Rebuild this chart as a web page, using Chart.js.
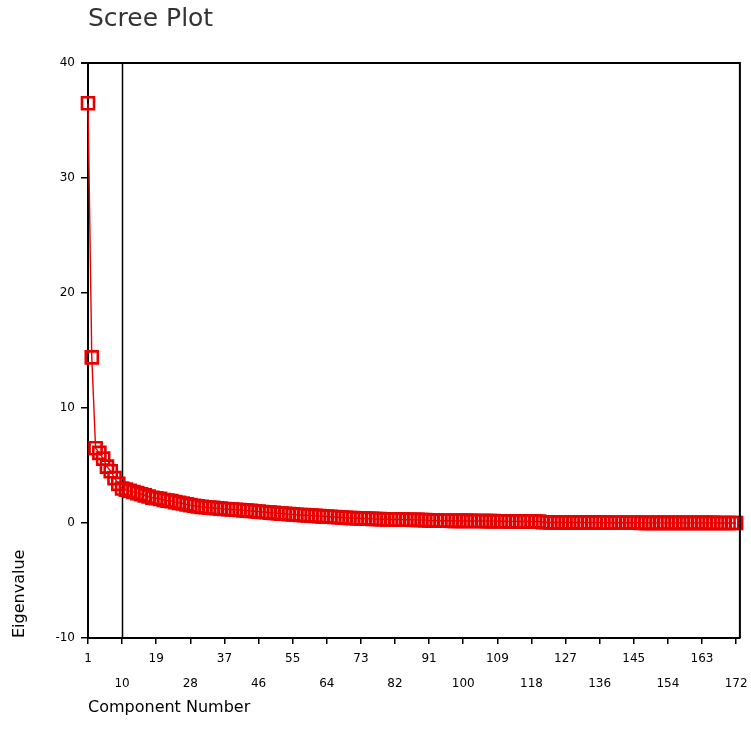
<!DOCTYPE html>
<html>
<head>
<meta charset="utf-8">
<script src="https://cdn.jsdelivr.net/npm/chart.js@4"></script>
<style>
  html, body { margin: 0; padding: 0; background: #fff; }
  #wrap { width: 751px; height: 751px; }
</style>
</head>
<body>
<div id="wrap"><canvas id="scree" width="751" height="751"></canvas></div>
<script>
const chartTitle = "Scree Plot";
const xTitle = "Component Number";
const yTitle = "Eigenvalue";

// eigenvalues for components 1..172
const eigenvalues = [
  36.5, 14.4, 6.5, 6.1, 5.6, 4.9, 4.5, 3.9, 3.4, 3.0,
  2.9, 2.8, 2.7, 2.6, 2.5, 2.4, 2.3, 2.2, 2.15, 2.1,
  2.0, 1.95, 1.9, 1.82, 1.75, 1.7, 1.62, 1.55, 1.5, 1.45,
  1.4, 1.37, 1.34, 1.31, 1.28, 1.25, 1.22, 1.2, 1.17, 1.15,
  1.13, 1.1, 1.08, 1.05, 1.02, 0.99, 0.96, 0.93, 0.9, 0.88,
  0.85, 0.82, 0.8, 0.77, 0.75, 0.72, 0.7, 0.68, 0.66, 0.64,
  0.62, 0.6, 0.58, 0.56, 0.54, 0.52, 0.5, 0.48, 0.46, 0.44,
  0.42, 0.41, 0.4, 0.38, 0.37, 0.36, 0.35, 0.34, 0.33, 0.32,
  0.31, 0.3, 0.3, 0.29, 0.28, 0.28, 0.27, 0.27, 0.26, 0.25,
  0.22, 0.21, 0.21, 0.2, 0.2, 0.2, 0.19, 0.19, 0.19, 0.18,
  0.18, 0.18, 0.17, 0.17, 0.17, 0.16, 0.16, 0.16, 0.15, 0.15,
  0.15, 0.14, 0.14, 0.14, 0.13, 0.13, 0.13, 0.12, 0.12, 0.12,
  0.06, 0.06, 0.05, 0.05, 0.05, 0.05, 0.04, 0.04, 0.04, 0.04,
  0.04, 0.03, 0.03, 0.03, 0.03, 0.03, 0.03, 0.02, 0.02, 0.02,
  0.02, 0.02, 0.02, 0.02, 0.02, 0.02, 0.01, 0.01, 0.01, 0.01,
  0.01, 0.01, 0.01, 0.01, 0.01, 0.01, 0.01, 0.01, 0.01, 0.01,
  0.01, 0.01, 0.01, 0.01, 0.01, 0.01, 0.0, 0.0, 0.0, 0.0,
  0.0, 0.0
];
const components = eigenvalues.map((v, i) => i + 1);

const xTicks = [1, 10, 19, 28, 37, 46, 55, 64, 73, 82, 91, 100, 109, 118, 127, 136, 145, 154, 163, 172];
const yTicks = [-10, 0, 10, 20, 30, 40];
const cutoff = 10;

const FONT = "'DejaVu Sans', sans-serif";

// title, frame and the reference line at component 10
const screeExtras = {
  id: "screeExtras",
  beforeDatasetsDraw(chart) {
    const { ctx, chartArea, scales } = chart;
    ctx.save();
    ctx.strokeStyle = "#000";
    ctx.lineWidth = 1.5;
    const xc = Math.round(scales.x.getPixelForValue(cutoff)) + 0.5;
    ctx.beginPath();
    ctx.moveTo(xc, chartArea.top);
    ctx.lineTo(xc, chartArea.bottom);
    ctx.stroke();
    ctx.restore();
  },
  afterDraw(chart) {
    const { ctx, chartArea } = chart;
    ctx.save();
    ctx.strokeStyle = "#000";
    ctx.lineWidth = 2;
    ctx.beginPath();
    ctx.moveTo(chartArea.left - 7, chartArea.top);
    ctx.lineTo(chartArea.right, chartArea.top);
    ctx.lineTo(chartArea.right, chartArea.bottom);
    ctx.stroke();

    ctx.fillStyle = "#333";
    ctx.font = "25px " + FONT;
    ctx.textAlign = "left";
    ctx.textBaseline = "alphabetic";
    ctx.fillText(chartTitle, chartArea.left, 26);
    ctx.restore();
  }
};

new Chart(document.getElementById("scree"), {
  type: "line",
  data: {
    datasets: [{
      label: yTitle,
      data: components.map((c, i) => ({ x: c, y: eigenvalues[i] })),
      borderColor: "#e80000",
      borderWidth: 1.4,
      tension: 0,
      clip: false,
      pointStyle: "rect",
      pointRadius: 8.5,
      pointBorderWidth: 2.6,
      pointBorderColor: "#e60000",
      pointBackgroundColor: "rgba(0,0,0,0)",
      fill: false,
    }],
  },
  options: {
    responsive: false,
    animation: false,
    layout: { padding: { top: 63, right: 9, left: 0, bottom: 0 } },
    plugins: {
      legend: { display: false },
      title: { display: false },
      tooltip: { enabled: false },
    },
    scales: {
      x: {
        type: "linear",
        min: 1,
        max: 173,
        afterFit: (scale) => { scale.height = 113; },
        afterBuildTicks: (scale) => { scale.ticks = xTicks.map(v => ({ value: v })); },
        border: { color: "#000", width: 2 },
        grid: { drawOnChartArea: false, drawTicks: true, tickLength: 6, color: "#000", lineWidth: 1.5 },
        ticks: {
          autoSkip: false,
          maxRotation: 0,
          padding: 2,
          color: "#000",
          font: { family: FONT, size: 12, lineHeight: "25px" },
          callback: function (value, index) {
            return index % 2 === 0 ? String(value) : ["", String(value)];
          },
        },
        title: {
          display: true,
          text: xTitle,
          align: "start",
          color: "#000",
          font: { family: FONT, size: 16 },
          padding: { top: 0, bottom: 34 },
        },
      },
      y: {
        min: -10,
        max: 40,
        afterFit: (scale) => { scale.width = 88; },
        afterBuildTicks: (scale) => { scale.ticks = yTicks.map(v => ({ value: v })); },
        border: { color: "#000", width: 2 },
        grid: { drawOnChartArea: false, drawTicks: true, tickLength: 7, color: "#000", lineWidth: 1.5 },
        ticks: {
          padding: 6,
          color: "#000",
          font: { family: FONT, size: 12 },
        },
        title: {
          display: true,
          text: yTitle,
          align: "start",
          color: "#000",
          font: { family: FONT, size: 16 },
          padding: { top: 10, bottom: 0 },
        },
      },
    },
  },
  plugins: [screeExtras],
});
</script>
</body>
</html>
